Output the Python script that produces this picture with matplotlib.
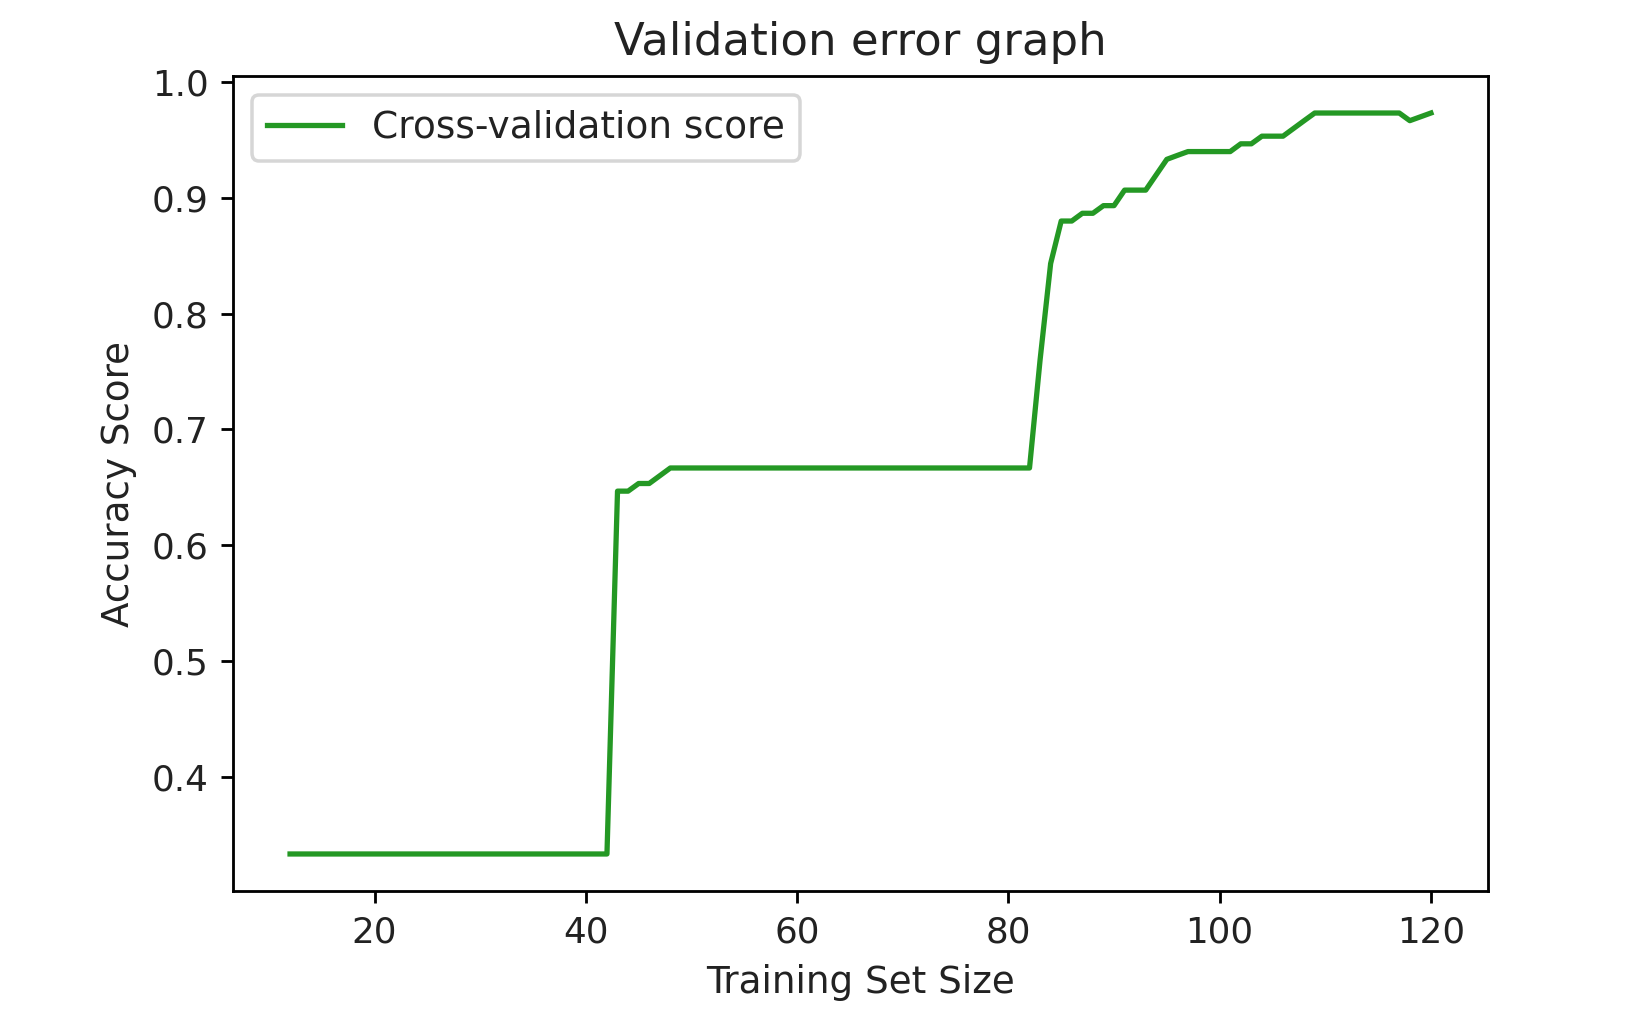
import matplotlib
matplotlib.use("Agg")
import matplotlib.pyplot as plt
import numpy as np

train_sizes = list(range(12, 121))

low_plateau = [0.3333] * 31                      # sizes 12..42
mid_rise = [0.6467, 0.6467, 0.6533, 0.6533, 0.66]  # sizes 43..47
mid_plateau = [0.6667] * 35                      # sizes 48..82
high_part = [0.76, 0.8433, 0.88, 0.88, 0.8867, 0.8867, 0.8933, 0.8933,   # 83..90
             0.9067, 0.9067, 0.9067, 0.92, 0.9333, 0.9367, 0.94, 0.94,   # 91..98
             0.94, 0.94, 0.94, 0.9467, 0.9467, 0.9533, 0.9533, 0.9533,   # 99..106
             0.96, 0.9667, 0.9733, 0.9733, 0.9733, 0.9733, 0.9733,       # 107..113
             0.9733, 0.9733, 0.9733, 0.9733, 0.9667, 0.97, 0.9733]       # 114..120

test_mean = low_plateau + mid_rise + mid_plateau + high_part

title = "Validation error graph"
xlabel = "Training Set Size"
ylabel = "Accuracy Score"
series_label = "Cross-validation score"

text_color = "#222222"
plt.rcParams["text.color"] = text_color
plt.rcParams["axes.labelcolor"] = text_color
plt.rcParams["xtick.labelcolor"] = text_color
plt.rcParams["ytick.labelcolor"] = text_color

dpi = 253
fig = plt.figure(figsize=(1642 / dpi, 1035 / dpi), dpi=dpi)
ax = fig.add_axes([0.1419, 0.1391, 0.9062 - 0.1419, 0.9266 - 0.1391])
ax.plot(train_sizes, test_mean, color="#249824", lw=1.5, label=series_label)
ax.set_title(title, fontsize=12.8)
ax.set_xlabel(xlabel, fontsize=10.6)
ax.set_ylabel(ylabel, fontsize=10.6)
ax.tick_params(labelsize=10.2)
ax.legend(loc="upper left", fontsize=10.7)
fig.savefig("out.png", dpi=dpi)
